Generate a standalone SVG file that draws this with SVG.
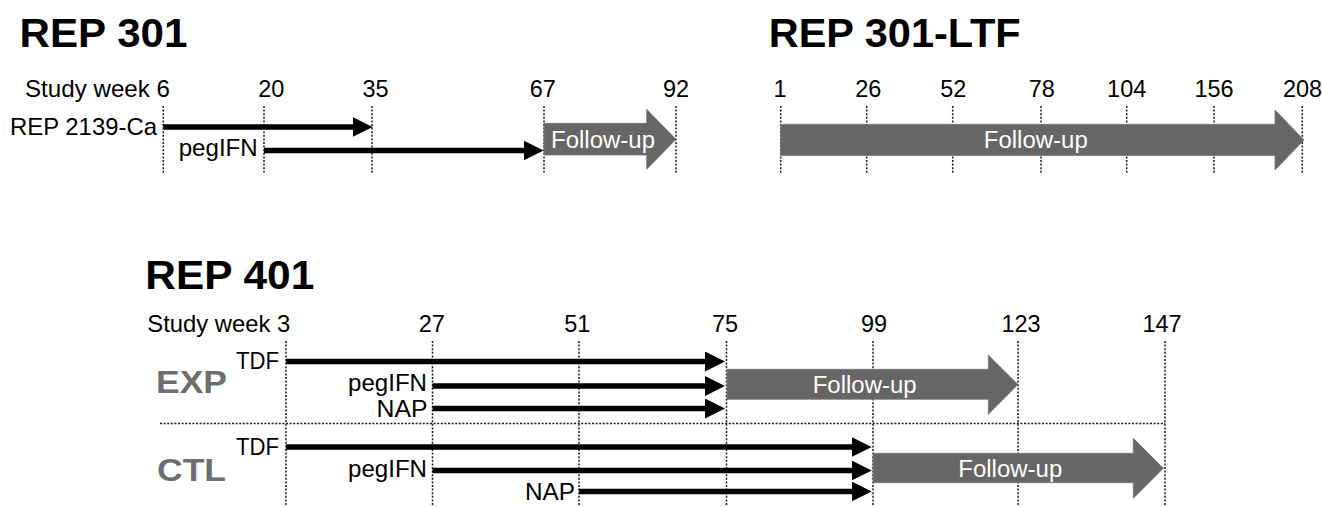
<svg xmlns="http://www.w3.org/2000/svg" width="1322" height="507" viewBox="0 0 1322 507">
<style>
text{font-family:"Liberation Sans",Arial,sans-serif;fill:#000}
.title{font-size:40px;font-weight:bold}
.lbl{font-size:24px}
.sm{font-size:23px}
.num{font-size:23.5px;text-anchor:middle}
.fu{font-size:23.5px;fill:#fff;text-anchor:middle}
.grp{font-size:32px;font-weight:bold;fill:#6e6e6e}
.dot{stroke:#1a1a1a;stroke-width:1.5;stroke-dasharray:2 1.6;fill:none}
.bar{stroke:#000;stroke-width:5.5;fill:none;marker-end:url(#ah)}
.blk{fill:#666;stroke:#7a7a7a;stroke-width:0.8}
</style>
<defs>
<marker id="ah" markerUnits="userSpaceOnUse" markerWidth="20" markerHeight="20" refX="10" refY="10" orient="auto">
<path d="M0,0 L20,10 L0,20 Z" fill="#000"/>
</marker>
</defs>
<rect width="1322" height="507" fill="#fff"/>

<g id="rep301">
<text class="title" x="19.5" y="47.3" textLength="168" lengthAdjust="spacingAndGlyphs">REP 301</text>
<text class="lbl" x="25" y="97.3" textLength="145" lengthAdjust="spacingAndGlyphs">Study week 6</text>
<text class="num" x="271.3" y="97.3">20</text>
<text class="num" x="375.5" y="97.3">35</text>
<text class="num" x="542.7" y="97.3">67</text>
<text class="num" x="676" y="97.3">92</text>
<line class="dot" x1="163.3" y1="106" x2="163.3" y2="173"/>
<line class="dot" x1="264" y1="106" x2="264" y2="173"/>
<line class="dot" x1="372" y1="106" x2="372" y2="173"/>
<line class="dot" x1="544" y1="106" x2="544" y2="173"/>
<line class="dot" x1="676" y1="106" x2="676" y2="173"/>
<text class="lbl" x="10" y="134.8" textLength="147" lengthAdjust="spacingAndGlyphs">REP 2139-Ca</text>
<text class="lbl" x="178.7" y="156.2" textLength="79" lengthAdjust="spacingAndGlyphs">pegIFN</text>
</g>

<g id="rep301-followup">
<path class="blk" d="M544,123.3 L646.7,123.3 L646.7,109.3 L676,139.3 L646.7,169.3 L646.7,155 L544,155 Z"/>
<text class="fu" x="603" y="148" textLength="104" lengthAdjust="spacingAndGlyphs">Follow-up</text>
</g>

<g id="rep301ltf">
<text class="title" x="768.7" y="47.3" textLength="252" lengthAdjust="spacingAndGlyphs">REP 301-LTF</text>
<text class="num" x="780" y="97.3">1</text>
<text class="num" x="868.3" y="97.3">26</text>
<text class="num" x="953.3" y="97.3">52</text>
<text class="num" x="1041.7" y="97.3">78</text>
<text class="num" x="1126.7" y="97.3">104</text>
<text class="num" x="1214" y="97.3">156</text>
<text class="num" x="1302.5" y="97.3">208</text>
<line class="dot" x1="780.7" y1="106" x2="780.7" y2="173"/>
<line class="dot" x1="866.7" y1="106" x2="866.7" y2="173"/>
<line class="dot" x1="952.7" y1="106" x2="952.7" y2="173"/>
<line class="dot" x1="1041" y1="106" x2="1041" y2="173"/>
<line class="dot" x1="1126.7" y1="106" x2="1126.7" y2="173"/>
<line class="dot" x1="1214" y1="106" x2="1214" y2="173"/>
<line class="dot" x1="1302.3" y1="106" x2="1302.3" y2="173"/>
<path class="blk" d="M780.7,124.3 L1275,124.3 L1275,110 L1304,140 L1275,170 L1275,155.5 L780.7,155.5 Z"/>
<text class="fu" x="1035.8" y="148.3" textLength="104" lengthAdjust="spacingAndGlyphs">Follow-up</text>
</g>

<g id="rep401">
<text class="title" x="145.3" y="289.3" textLength="169" lengthAdjust="spacingAndGlyphs">REP 401</text>
<text class="lbl" x="147.3" y="332" textLength="143" lengthAdjust="spacingAndGlyphs">Study week 3</text>
<text class="num" x="431.7" y="332">27</text>
<text class="num" x="577.3" y="332">51</text>
<text class="num" x="725" y="332">75</text>
<text class="num" x="874" y="332">99</text>
<text class="num" x="1021" y="332">123</text>
<text class="num" x="1162" y="332">147</text>
<line class="dot" x1="286" y1="341" x2="286" y2="506"/>
<line class="dot" x1="432.5" y1="341" x2="432.5" y2="506"/>
<line class="dot" x1="579" y1="341" x2="579" y2="506"/>
<line class="dot" x1="726.5" y1="341" x2="726.5" y2="506"/>
<line class="dot" x1="873" y1="341" x2="873" y2="506"/>
<line class="dot" x1="1018" y1="341" x2="1018" y2="506"/>
<line class="dot" x1="1165" y1="341" x2="1165" y2="506"/>
<line class="dot" x1="160" y1="423.5" x2="1165" y2="423.5"/>
</g>

<g id="exp">
<text class="grp" x="156" y="393" textLength="71" lengthAdjust="spacingAndGlyphs">EXP</text>
<text class="lbl" x="236" y="369.3" textLength="43" lengthAdjust="spacingAndGlyphs">TDF</text>
<text class="sm" x="348" y="391" textLength="79" lengthAdjust="spacingAndGlyphs">pegIFN</text>
<text class="sm" x="376.6" y="417" textLength="51" lengthAdjust="spacingAndGlyphs">NAP</text>
<path class="blk" d="M727,369.3 L988.3,369.3 L988.3,355 L1018,384.5 L988.3,414.3 L988.3,399.3 L727,399.3 Z"/>
<text class="fu" x="864.7" y="393" textLength="104" lengthAdjust="spacingAndGlyphs">Follow-up</text>
</g>

<g id="ctl">
<text class="grp" x="157" y="481" textLength="69" lengthAdjust="spacingAndGlyphs">CTL</text>
<text class="lbl" x="236" y="455.3" textLength="43" lengthAdjust="spacingAndGlyphs">TDF</text>
<text class="lbl" x="348" y="477" textLength="79" lengthAdjust="spacingAndGlyphs">pegIFN</text>
<text class="lbl" x="525" y="500" textLength="50" lengthAdjust="spacingAndGlyphs">NAP</text>
<path class="blk" d="M873,453.3 L1133.3,453.3 L1133.3,438.3 L1163.3,468.3 L1133.3,498.3 L1133.3,482.7 L873,482.7 Z"/>
<text class="fu" x="1010.3" y="476.5" textLength="104" lengthAdjust="spacingAndGlyphs">Follow-up</text>
</g>

<g id="connectors">
<line class="bar" x1="163.3" y1="127" x2="362.7" y2="127"/>
<line class="bar" x1="264" y1="150.5" x2="533.5" y2="150.5"/>
<line class="bar" x1="286" y1="361.5" x2="715" y2="361.5"/>
<line class="bar" x1="432.5" y1="386" x2="715" y2="386"/>
<line class="bar" x1="432.5" y1="408.5" x2="715" y2="408.5"/>
<line class="bar" x1="286" y1="447" x2="861.7" y2="447"/>
<line class="bar" x1="432.5" y1="470.5" x2="861.7" y2="470.5"/>
<line class="bar" x1="579" y1="491.5" x2="861.7" y2="491.5"/>
</g>
</svg>
